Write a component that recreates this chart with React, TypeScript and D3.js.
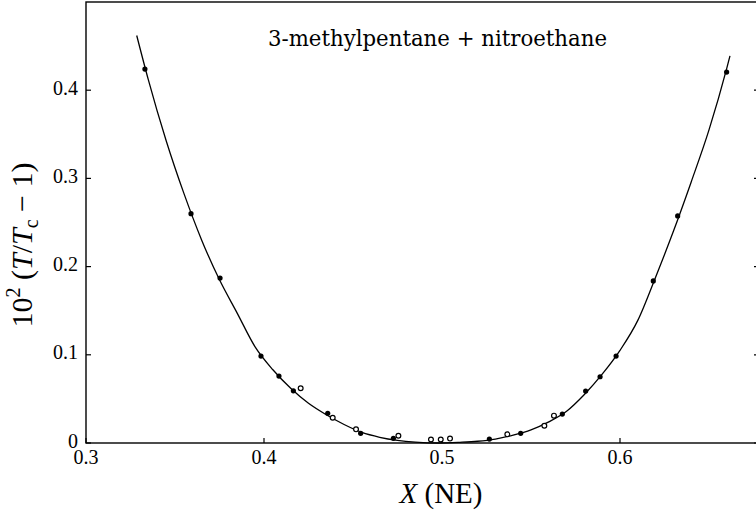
import React from "react";
import * as d3 from "d3";

const xTicks = [0.3, 0.4, 0.5, 0.6];
const yTicks = [0, 0.1, 0.2, 0.3, 0.4];
const xTickLabels = ["0.3", "0.4", "0.5", "0.6"];
const yTickLabels = ["0", "0.1", "0.2", "0.3", "0.4"];

const titleText = "3-methylpentane + nitroethane";

// filled circles: [X, 10^2 (T/Tc - 1)]
const filledX = [0.3331, 0.359, 0.3753, 0.3983, 0.4084, 0.4165, 0.4358, 0.4543, 0.4727, 0.5266, 0.5442, 0.5676, 0.5807, 0.5888, 0.5978, 0.6187, 0.6324, 0.6599];
const filledY = [0.424, 0.26, 0.187, 0.0985, 0.0759, 0.0592, 0.0336, 0.011, 0.0053, 0.0045, 0.011, 0.0328, 0.0589, 0.0751, 0.0985, 0.1838, 0.2574, 0.4205];

// open circles
const openX = [0.4206, 0.4386, 0.4517, 0.4755, 0.4938, 0.4993, 0.5045, 0.5367, 0.5575, 0.5629];
const openY = [0.062, 0.0287, 0.0155, 0.0083, 0.004, 0.004, 0.005, 0.0098, 0.0196, 0.031];

// fitted curve
const curveX = [0.3285, 0.335, 0.345, 0.355, 0.365, 0.375, 0.385, 0.395, 0.405, 0.415, 0.425, 0.435, 0.445, 0.455, 0.465, 0.475, 0.485, 0.498, 0.51, 0.52, 0.53, 0.54, 0.55, 0.56, 0.57, 0.58, 0.59, 0.6, 0.61, 0.62, 0.63, 0.64, 0.65, 0.66, 0.6618];
const curveY = [0.462, 0.412, 0.343, 0.283, 0.23, 0.185, 0.147, 0.109, 0.083, 0.062, 0.045, 0.032, 0.021, 0.012, 0.0065, 0.003, 0.001, 0.0, 0.0008, 0.002, 0.0045, 0.009, 0.015, 0.024, 0.036, 0.055, 0.078, 0.105, 0.139, 0.188, 0.24, 0.296, 0.355, 0.425, 0.439];

const W = 756;
const H = 515;
const serif = "'Liberation Serif', serif";
const titleFont = "'DejaVu Serif', serif";

export default function App() {
  const x = d3.scaleLinear().domain([0.3, 0.6]).range([86, 620]);
  const y = d3.scaleLinear().domain([0, 0.5]).range([443, 2]);
  const left = x(0.3);
  const right = 759;
  const top = y(0.5);
  const bottom = y(0);

  const line = d3
    .line<number>()
    .x((_, i) => x(curveX[i]))
    .y((_, i) => y(curveY[i]))
    .curve(d3.curveMonotoneX);
  const path = line(curveX) || "";

  return (
    <svg
      width={W}
      height={H}
      viewBox={`0 0 ${W} ${H}`}
      style={{ position: "absolute", left: 0, top: 0, background: "#fff" }}
    >
      <rect x={0} y={0} width={W} height={H} fill="#fff" />
      {/* frame */}
      <rect x={left} y={top} width={right - left} height={bottom - top} fill="none" stroke="#000" strokeWidth={1.4} />
      {/* x ticks */}
      {xTicks.map((t, i) => (
        <g key={"xt" + i}>
          <line x1={x(t)} x2={x(t)} y1={bottom} y2={bottom - 5} stroke="#000" strokeWidth={1.2} />
          <text x={x(t)} y={464} textAnchor="middle" fontFamily={serif} fontSize={20} fill="#000">
            {xTickLabels[i]}
          </text>
        </g>
      ))}
      {/* y ticks */}
      {yTicks.map((t, i) => (
        <g key={"yt" + i}>
          <line x1={left} x2={left + 5} y1={y(t)} y2={y(t)} stroke="#000" strokeWidth={1.2} />
          <line x1={right} x2={right - 5} y1={y(t)} y2={y(t)} stroke="#000" strokeWidth={1.2} />
          <text x={78} y={y(t) - 2} dy="0.33em" textAnchor="end" fontFamily={serif} fontSize={20} fill="#000">
            {yTickLabels[i]}
          </text>
        </g>
      ))}
      {/* curve */}
      <path d={path} fill="none" stroke="#000" strokeWidth={1.3} />
      {/* filled points */}
      {filledX.map((v, i) => (
        <circle key={"f" + i} cx={x(v)} cy={y(filledY[i])} r={2.6} fill="#000" />
      ))}
      {/* open points */}
      {openX.map((v, i) => (
        <circle key={"o" + i} cx={x(v)} cy={y(openY[i])} r={2.4} fill="#fff" stroke="#000" strokeWidth={1.2} />
      ))}
      {/* title */}
      <text x={268} y={46} fontFamily={titleFont} fontSize={23} fill="#000" textLength={339} lengthAdjust="spacingAndGlyphs">
        {titleText}
      </text>
      {/* x label */}
      <text x={441} y={503} textAnchor="middle" fontFamily={serif} fontSize={29} fill="#000">
        <tspan fontStyle="italic">X</tspan>
        <tspan> (NE)</tspan>
      </text>
      {/* y label */}
      <text
        transform={`translate(32, 245) rotate(-90)`}
        textAnchor="middle"
        fontFamily={serif}
        fontSize={30}
        fill="#000"
      >
        <tspan>10</tspan>
        <tspan fontSize={20} dy={-12}>2</tspan>
        <tspan dy={12}> (</tspan>
        <tspan fontStyle="italic">T</tspan>
        <tspan>/</tspan>
        <tspan fontStyle="italic">T</tspan>
        <tspan fontSize={20} dy={6}>c</tspan>
        <tspan dy={-6}> − 1)</tspan>
      </text>
    </svg>
  );
}
